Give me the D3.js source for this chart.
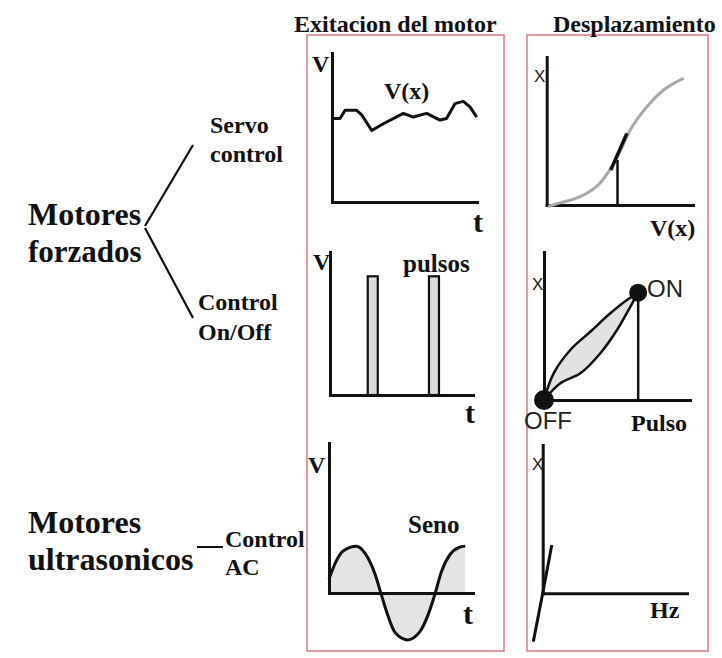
<!DOCTYPE html>
<html>
<head>
<meta charset="utf-8">
<script src="https://cdn.jsdelivr.net/npm/d3@7"></script>
<style>
  body { margin: 0; background: #fff; }
  svg text { font-family: "Liberation Serif", "Times New Roman", serif; fill: #111; }
  .bold { font-weight: bold; }
  .sans { font-family: "Liberation Sans", Arial, sans-serif !important; fill: #222; }
</style>
</head>
<body>
<div id="chart"></div>
<script>
// ---- data ----
// servo control: V(x) against t
const servoT = [0.1, 0.55, 0.9, 1.7, 2.05, 2.74, 3.54, 4.92, 5.6, 6.53, 7.45, 7.9, 8.48, 9.05, 9.5, 9.98];
const servoV = [5.6, 5.6, 6.15, 6.15, 5.85, 4.8, 5.25, 5.95, 5.7, 5.95, 5.5, 5.6, 6.6, 6.75, 6.4, 5.7];

// on/off control: two pulses [start, end, height]
const pulses = [[2.64, 3.34, 8.3], [6.92, 7.62, 8.3]];

// AC control: sine read point by point
const senoT = [0, 0.5, 1.0, 1.9, 2.7, 3.2, 3.6, 4.0, 4.6, 5.45, 6.3, 6.9, 7.38, 7.8, 8.4, 9.0, 9.46];
const senoV = [0.3, 0.68, 0.9, 1.0, 0.75, 0.4, 0, -0.4, -0.85, -1.0, -0.83, -0.45, 0, 0.45, 0.82, 0.97, 1.0];

// displacement vs V(x)
const despV = [0.1, 0.9, 2.28, 3.65, 4.79, 5.71, 6.85, 7.99, 9.36];
const despX = [-0.1, 0.14, 0.56, 1.49, 3.18, 5.07, 6.64, 7.77, 8.56];
const tangent = [[4.38, 2.36], [5.48, 4.84]];
const operating = [4.84, 3.04];

// displacement vs pulse (hysteresis loop)
const loopUp = [[0, 0], [0.66, 1.8], [1.8, 3.38], [3.17, 4.61], [4.54, 5.86], [5.68, 6.76], [6.45, 7.25]];
const loopDown = [[0, 0], [1.12, 1.13], [2.49, 1.8], [3.86, 3.16], [5.0, 4.73], [5.91, 6.3], [6.45, 7.25]];
const onPoint = [6.45, 7.25];
const offPoint = [0, 0];

// displacement vs Hz
const hzLine = [[-0.65, -3.26], [0, 0], [0.63, 3.26]];

const W = 722, H = 658;
const svg = d3.select("#chart").append("svg")
    .attr("width", W)
    .attr("height", H);

// red frames
svg.append("rect").attr("x", 307).attr("y", 35).attr("width", 197).attr("height", 616)
    .attr("fill", "none").attr("stroke", "#e07782").attr("stroke-width", 1.5);
svg.append("rect").attr("x", 527).attr("y", 35).attr("width", 181).attr("height", 616)
    .attr("fill", "none").attr("stroke", "#e07782").attr("stroke-width", 1.5);

function label(x, y, txt, size, cls) {
    return svg.append("text")
        .attr("x", x)
        .attr("y", y)
        .attr("class", cls || "bold")
        .style("font-size", size + "px")
        .text(txt);
}

// panel: scales + bare axes (no ticks)
function panel(xr, yr, xd, yd) {
    const x = d3.scaleLinear().domain(xd).range(xr);
    const y = d3.scaleLinear().domain(yd).range(yr);
    const g = svg.append("g");
    g.append("g")
        .attr("transform", `translate(0, ${y(0)})`)
        .call(d3.axisBottom(x).tickValues([]).tickSizeOuter(0));
    g.append("g")
        .attr("transform", `translate(${x(0)}, 0)`)
        .call(d3.axisLeft(y).tickValues([]).tickSizeOuter(0));
    g.selectAll(".domain")
        .attr("stroke", "#111")
        .attr("stroke-width", 3)
        .attr("stroke-linecap", "square");
    return { x, y, g };
}

// titles
label(294, 32, "Exitacion del motor", 24);
label(553, 32, "Desplazamiento", 24);

// left side
label(28, 225, "Motores", 32);
label(28, 262, "forzados", 31);
label(210, 133, "Servo", 24);
label(210, 162, "control", 24);
label(198, 310, "Control", 24);
label(198, 340, "On/Off", 24);
label(28, 533, "Motores", 32);
label(28, 570, "ultrasonicos", 32);
label(225, 547, "Control", 24);
label(225, 575, "AC", 24);

svg.append("path")
    .attr("d", "M145,226L193,145M145,228L193,318M197,547H223")
    .attr("fill", "none").attr("stroke", "#111").attr("stroke-width", 2.2);

// ---- panel 1: servo ----
const p1 = panel([332, 477], [202, 53], [0, 10], [0, 10]);
p1.g.append("path")
    .datum(servoT.map((t, i) => [t, servoV[i]]))
    .attr("fill", "none").attr("stroke", "#111").attr("stroke-width", 3)
    .attr("stroke-linejoin", "round")
    .attr("d", d3.line().x(d => p1.x(d[0])).y(d => p1.y(d[1])));
label(312, 72, "V", 24);
label(384, 99, "V(x)", 24);
label(473, 232, "t", 30);

// ---- panel 2: pulses ----
const p2 = panel([330, 473], [395, 252], [0, 10], [0, 10]);
p2.g.selectAll(".pulse")
    .data(pulses)
    .enter()
    .append("rect")
    .attr("class", "pulse")
    .attr("x", d => p2.x(d[0]))
    .attr("width", d => p2.x(d[1]) - p2.x(d[0]))
    .attr("y", d => p2.y(d[2]))
    .attr("height", d => p2.y(0) - p2.y(d[2]))
    .attr("fill", "#dcdcdc").attr("stroke", "#111").attr("stroke-width", 2.2);
label(313, 270, "V", 24);
label(403, 272, "pulsos", 25);
label(465, 423, "t", 30);

// ---- panel 3: sine ----
const p3 = panel([329, 473], [593, 443], [0, 10], [0, 3.2]);
const seno = senoT.map((t, i) => [t, senoV[i]]);
p3.g.insert("path", ":first-child")
    .datum(seno)
    .attr("fill", "#e4e4e4")
    .attr("d", d3.area().curve(d3.curveMonotoneX)
        .x(d => p3.x(d[0])).y0(p3.y(0)).y1(d => p3.y(d[1])));
p3.g.append("path")
    .datum(seno)
    .attr("fill", "none").attr("stroke", "#111").attr("stroke-width", 3)
    .attr("d", d3.line().curve(d3.curveMonotoneX).x(d => p3.x(d[0])).y(d => p3.y(d[1])));
label(308, 473, "V", 24);
label(408, 533, "Seno", 25);
label(463, 624, "t", 30);

// ---- panel 4: displacement vs V(x) ----
const p4 = panel([546.7, 693], [205, 57], [0, 10], [0, 10]);
p4.g.append("path")
    .datum(despV.map((v, i) => [v, despX[i]]))
    .attr("fill", "none").attr("stroke", "#a8a8a8").attr("stroke-width", 3)
    .attr("d", d3.line().curve(d3.curveMonotoneX).x(d => p4.x(d[0])).y(d => p4.y(d[1])));
p4.g.append("line")
    .attr("x1", p4.x(operating[0])).attr("x2", p4.x(operating[0]))
    .attr("y1", p4.y(0)).attr("y2", p4.y(operating[1]))
    .attr("stroke", "#111").attr("stroke-width", 2.5);
p4.g.append("line")
    .attr("x1", p4.x(tangent[0][0])).attr("y1", p4.y(tangent[0][1]))
    .attr("x2", p4.x(tangent[1][0])).attr("y2", p4.y(tangent[1][1]))
    .attr("stroke", "#111").attr("stroke-width", 3.5);
label(534, 82, "X", 17, "sans");
label(650, 236, "V(x)", 24);

// ---- panel 5: hysteresis loop ----
const p5 = panel([544, 690], [400, 252], [0, 10], [0, 10]);
const loopLine = d3.line().curve(d3.curveCatmullRom).x(d => p5.x(d[0])).y(d => p5.y(d[1]));
p5.g.append("path")
    .attr("d", loopLine(loopUp) + "L" + loopLine(loopDown.slice().reverse()).slice(1) + "Z")
    .attr("fill", "#e2e2e2").attr("stroke", "none");
[loopUp, loopDown].forEach(pts => {
    p5.g.append("path")
        .attr("d", loopLine(pts))
        .attr("fill", "none").attr("stroke", "#111").attr("stroke-width", 2.5);
});
p5.g.append("line")
    .attr("x1", p5.x(onPoint[0])).attr("x2", p5.x(onPoint[0]))
    .attr("y1", p5.y(0)).attr("y2", p5.y(onPoint[1]))
    .attr("stroke", "#111").attr("stroke-width", 2.5);
p5.g.selectAll(".dot")
    .data([[offPoint, 10], [onPoint, 9]])
    .enter()
    .append("circle")
    .attr("cx", d => p5.x(d[0][0]))
    .attr("cy", d => p5.y(d[0][1]))
    .attr("r", d => d[1])
    .attr("fill", "#111");
label(532, 290, "X", 17, "sans");
label(647, 297, "ON", 24, "sans");
label(524, 429, "OFF", 24, "sans");
label(631, 431, "Pulso", 24);

// ---- panel 6: displacement vs Hz ----
const p6 = panel([542.7, 687], [593.3, 445], [0, 10], [0, 10]);
p6.g.append("path")
    .datum(hzLine)
    .attr("fill", "none").attr("stroke", "#111").attr("stroke-width", 3)
    .attr("d", d3.line().x(d => p6.x(d[0])).y(d => p6.y(d[1])));
label(532, 470, "X", 17, "sans");
label(650, 618, "Hz", 24);
</script>
</body>
</html>
